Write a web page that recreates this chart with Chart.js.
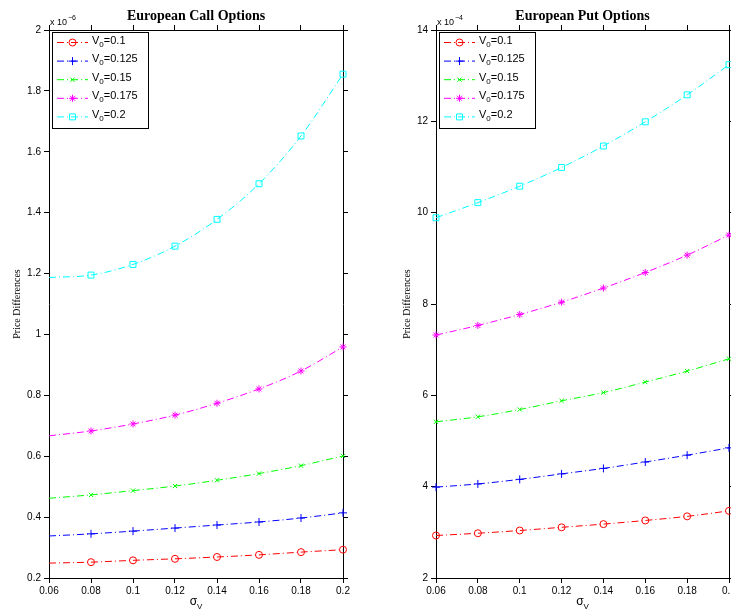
<!DOCTYPE html>
<html>
<head>
<meta charset="utf-8">
<script src="https://cdn.jsdelivr.net/npm/chart.js@4.4.1/dist/chart.umd.min.js"></script>
<style>
  html, body { margin: 0; padding: 0; background: #fff; overflow: hidden; }
  #wrap { position: relative; width: 731px; height: 610px; overflow: hidden; }
  #callBox { position: absolute; left: 0; top: 0; width: 365px; height: 610px; }
  #putBox { position: absolute; left: 390px; top: 0; width: 380px; height: 610px; }
</style>
</head>
<body>
<div id="wrap">
  <div id="callBox"><canvas id="callChart" width="365" height="610"></canvas></div>
  <div id="putBox"><canvas id="putChart" width="380" height="610"></canvas></div>
</div>
<script>
var sigmaV = [0.06, 0.08, 0.1, 0.12, 0.14, 0.16, 0.18, 0.2];
var v0Labels = ['0.1', '0.125', '0.15', '0.175', '0.2'];

// European call, price differences (x 10^-6)
var callV0_100 = [0.249, 0.252, 0.258, 0.263, 0.269, 0.276, 0.285, 0.293];
var callV0_125 = [0.338, 0.345, 0.354, 0.364, 0.374, 0.384, 0.397, 0.414];
var callV0_150 = [0.462, 0.473, 0.487, 0.502, 0.521, 0.543, 0.569, 0.601];
var callV0_175 = [0.667, 0.683, 0.706, 0.735, 0.774, 0.821, 0.880, 0.959];
var callV0_200 = [1.187, 1.195, 1.230, 1.290, 1.378, 1.495, 1.652, 1.855];

// European put, price differences (x 10^-4)
var putV0_100 = [2.93, 2.98, 3.04, 3.11, 3.18, 3.26, 3.35, 3.47];
var putV0_125 = [3.99, 4.06, 4.16, 4.28, 4.40, 4.54, 4.69, 4.85];
var putV0_150 = [5.42, 5.53, 5.69, 5.88, 6.06, 6.29, 6.53, 6.80];
var putV0_175 = [7.32, 7.53, 7.77, 8.04, 8.35, 8.69, 9.07, 9.51];
var putV0_200 = [9.89, 10.22, 10.58, 10.99, 11.46, 11.99, 12.58, 13.24];

var xTicks = [0.06, 0.08, 0.1, 0.12, 0.14, 0.16, 0.18, 0.2];
var callYTicks = [0.2, 0.4, 0.6, 0.8, 1, 1.2, 1.4, 1.6, 1.8, 2];
var putYTicks = [2, 4, 6, 8, 10, 12, 14];

var colors = ['#ff0000', '#0000ff', '#00ff00', '#ff00ff', '#00ffff'];
var markers = ['circle', 'cross', 'crossRot', 'star', 'rect'];
var radii = [3.5, 4, 3, 3.5, 4.2];
var dashDot = [7, 3, 1, 3];

Chart.defaults.font.family = '"Liberation Sans", Arial, sans-serif';
Chart.defaults.color = '#000';

// title, exponent, legend box and sigma_V label drawn on top of the chart
var extras = {
  id: 'extras',
  afterDraw: function(chart, args, opts) {
    var ctx = chart.ctx, a = chart.chartArea;
    var cx = (a.left + a.right) / 2;
    ctx.save();
    ctx.fillStyle = '#000';

    ctx.font = 'bold 14px "Liberation Serif"';
    ctx.textAlign = 'center';
    ctx.textBaseline = 'middle';
    ctx.fillText(opts.title, cx, a.top - 14);

    ctx.textAlign = 'left';
    ctx.textBaseline = 'alphabetic';
    ctx.font = '9px "Liberation Sans"';
    ctx.fillText('x 10', a.left + 1, a.top - 5);
    var w = ctx.measureText('x 10').width;
    ctx.font = '7px "Liberation Sans"';
    ctx.fillText(opts.expo, a.left + 2 + w, a.top - 10);

    ctx.font = '12px "Liberation Sans"';
    var w1 = ctx.measureText('σ').width;
    ctx.font = '8px "Liberation Sans"';
    var w2 = ctx.measureText('V').width;
    var sx = cx - (w1 + w2) / 2;
    ctx.font = '12px "Liberation Sans"';
    ctx.fillText('σ', sx, 605);
    ctx.font = '8px "Liberation Sans"';
    ctx.fillText('V', sx + w1, 609);

    // legend
    var bx = a.left + 3, by = a.top + 2, bw = 96, bh = 96;
    ctx.fillStyle = '#fff';
    ctx.fillRect(bx, by, bw, bh);
    ctx.strokeStyle = '#000';
    ctx.lineWidth = 1;
    ctx.strokeRect(bx + 0.5, by + 0.5, bw, bh);
    chart.data.datasets.forEach(function(ds, i) {
      var y = by + 10.5 + i * 18.6;
      ctx.strokeStyle = ds.borderColor;
      ctx.setLineDash(dashDot);
      ctx.beginPath();
      ctx.moveTo(bx + 5, y);
      ctx.lineTo(bx + 36, y);
      ctx.stroke();
      ctx.setLineDash([]);
      ctx.fillStyle = 'rgba(0,0,0,0)';
      Chart.helpers.drawPoint(ctx, { pointStyle: markers[i], radius: radii[i], rotation: 0, borderWidth: 1 }, bx + 20.5, y);
      ctx.fillStyle = '#000';
      ctx.font = '11px "Liberation Sans"';
      ctx.fillText('V', bx + 40, y + 1);
      var vw = ctx.measureText('V').width;
      ctx.font = '8px "Liberation Sans"';
      ctx.fillText('0', bx + 40 + vw, y + 4);
      var zw = ctx.measureText('0').width;
      ctx.font = '11px "Liberation Sans"';
      ctx.fillText('=' + v0Labels[i], bx + 40 + vw + zw, y + 1);
    });
    ctx.restore();
  }
};

function makeChart(id, series, yTicks, yAxisWidth, padRight, title, expo, skipFirst) {
  var datasets = series.map(function(vals, i) {
    var r = sigmaV.map(function(x, j) { return (skipFirst && j === 0) ? 0 : radii[i]; });
    return {
      label: 'V0=' + v0Labels[i],
      data: sigmaV.map(function(x, j) { return { x: x, y: vals[j] }; }),
      borderColor: colors[i],
      borderWidth: 1,
      borderDash: dashDot,
      cubicInterpolationMode: 'monotone',
      pointStyle: markers[i],
      pointRadius: r,
      pointBorderWidth: 1,
      pointBorderColor: colors[i],
      pointBackgroundColor: 'rgba(0,0,0,0)',
      clip: 8
    };
  });
  var yMin = yTicks[0], yMax = yTicks[yTicks.length - 1];
  var setX = function(s) { s.ticks = xTicks.map(function(v) { return { value: v }; }); };
  var setY = function(s) { s.ticks = yTicks.map(function(v) { return { value: v }; }); };
  var grid = { drawOnChartArea: false, tickLength: 5, color: '#000', lineWidth: 1 };
  var border = { display: true, color: '#000', width: 1 };
  return new Chart(document.getElementById(id).getContext('2d'), {
    type: 'line',
    data: { datasets: datasets },
    plugins: [extras],
    options: {
      responsive: false,
      animation: false,
      devicePixelRatio: 1,
      layout: { padding: { top: 25, right: padRight, bottom: 0, left: 0 } },
      plugins: {
        legend: { display: false },
        tooltip: { enabled: false },
        extras: { title: title, expo: expo }
      },
      scales: {
        x: {
          type: 'linear', position: 'bottom', min: 0.06, max: 0.2,
          afterBuildTicks: setX,
          afterFit: function(s) { s.height = 32; },
          ticks: { font: { size: 10 }, padding: 2, maxRotation: 0, callback: function(v) { return String(v); } },
          grid: grid, border: border
        },
        x2: {
          type: 'linear', position: 'top', min: 0.06, max: 0.2,
          afterBuildTicks: setX,
          afterFit: function(s) { s.height = 5; },
          ticks: { display: false },
          grid: grid, border: border
        },
        y: {
          type: 'linear', position: 'left', min: yMin, max: yMax,
          afterBuildTicks: setY,
          afterFit: function(s) { s.width = yAxisWidth; },
          ticks: { font: { size: 10 }, padding: 3, callback: function(v) { return String(v); } },
          title: { display: true, text: 'Price Differences', font: { family: '"Liberation Serif"', size: 10 }, padding: { top: 11, bottom: 0 } },
          grid: grid, border: border
        },
        y2: {
          type: 'linear', position: 'right', min: yMin, max: yMax,
          afterBuildTicks: setY,
          afterFit: function(s) { s.width = 5; },
          ticks: { display: false },
          grid: grid, border: border
        }
      }
    }
  });
}

makeChart('callChart', [callV0_100, callV0_125, callV0_150, callV0_175, callV0_200],
  callYTicks, 49, 17, 'European Call Options', '−6', true);
makeChart('putChart', [putV0_100, putV0_125, putV0_150, putV0_175, putV0_200],
  putYTicks, 46, 36, 'European Put Options', '−4', false);
</script>
</body>
</html>
